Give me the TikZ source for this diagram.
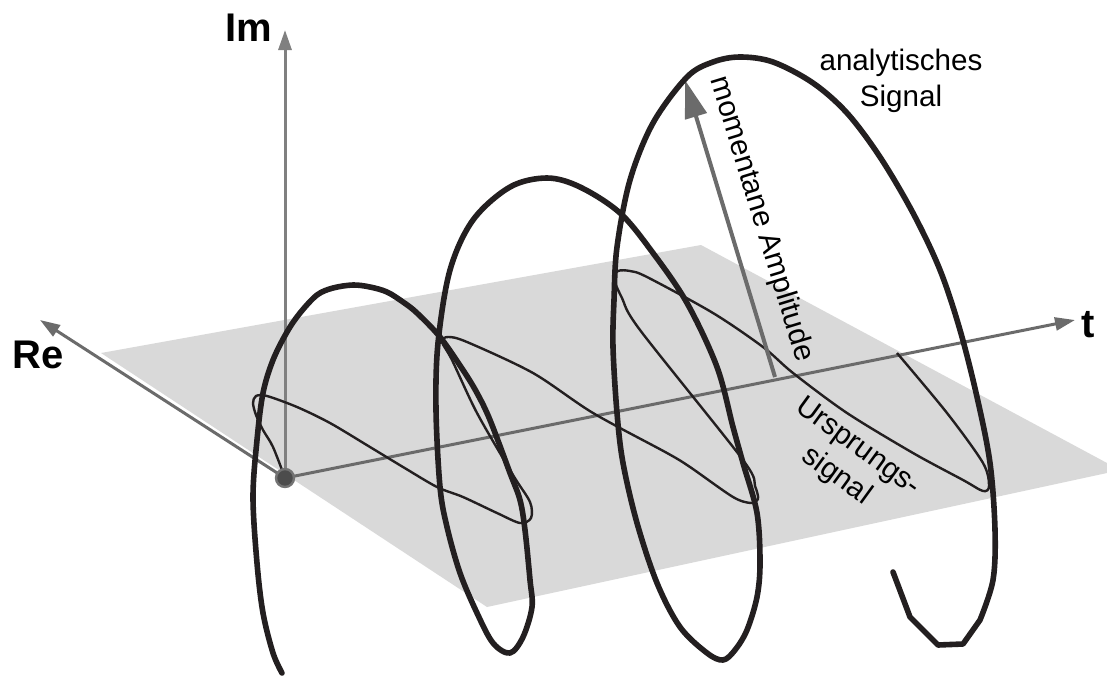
\documentclass[tikz,border=0pt]{standalone}
\usepackage{fontspec}
\setmainfont{Liberation Sans}
\usetikzlibrary{arrows.meta}
\definecolor{helix}{HTML}{231F20}
\definecolor{axisgray}{HTML}{6B6B6B}
\definecolor{imgray}{HTML}{808080}
\definecolor{planegray}{HTML}{D9D9D9}

\begin{document}
\begin{tikzpicture}[x=0.5pt, y=-0.5pt,
    axisarrow/.style={axisgray, line width=1.5pt, -{Triangle[length=10pt,width=6.5pt]}},
    axislabel/.style={font=\fontsize{20}{24}\selectfont\bfseries, inner sep=0pt},
    textlabel/.style={font=\fontsize{14.8}{18}\selectfont, inner sep=0pt, align=center},
    analytic/.style={helix, line width=2.8pt, line join=round, line cap=round},
    real/.style={helix, line width=1.2pt, line join=round}]
    \useasboundingbox (0,0) rectangle (1107,675);

    % Plane
    \fill[planegray] (101,353) -- (701,245) -- (1107,463) -- (1107,473) -- (487,607) -- cycle;

    % Axes
    \coordinate (O) at (285,478);
    \coordinate (ImTip) at (285,30);
    \coordinate (ReTip) at (40,320);
    \coordinate (tTip) at (1075,320);
    \draw[axisarrow, imgray] (O) -- (ImTip);
    \draw[axisarrow] (O) -- (ReTip);
    \draw[axisarrow] (O) -- (tTip);
    \node[axislabel] (Im) at (249,28) {Im};
    \node[axislabel] (Re) at (38,355) {Re};
    \node[axislabel] (t) at (1088,325) {t};

    % Real part
    \draw[real] plot[smooth, tension=0.5] coordinates {(285,478) (273,447) (263,430) (256,415) (253,403) (256,396) (267,396) (297,407) (330,423) (370,447) (403,467) (437,487) (463,497) (497,513) (520,523) (531,518) (530,502) (513,475) (477,413) (452,360) (442,342) (448,337) (467,342) (533,373) (593,413) (667,453) (690,467) (733,497) (751,503) (758,499) (755,486) (743,460) (640,330) (622,298) (614,279) (618,271) (630,271) (647,277) (713,313) (763,347) (793,373) (847,413) (913,453) (963,480) (983,491) (989,486) (983,463) (947,413) (897,353)};

    % Amplitude
    \coordinate (AmpFoot) at (775,377);
    \coordinate (AmpTip) at (685,80);
    \draw[axisgray, line width=2pt, -{Triangle[length=19pt,width=11pt]}] (AmpFoot) -- (AmpTip);

    % Analytic signal
    \draw[analytic] plot[smooth, tension=0.55] coordinates {(282,673) (273,653) (263,613) (257,563) (253,497) (257,440) (263,393) (273,360) (287,332) (300,313) (317,295) (333,288) (353,285) (370,287) (387,292) (403,302) (417,313) (440,337) (463,370) (477,393) (490,420) (510,473) (520,500) (525,530) (530,580) (532,607) (523,637) (510,653) (493,643) (477,613) (460,573) (447,527) (440,487) (436,410) (438,343) (450,270) (473,220) (510,187) (547,178) (580,187) (620,213) (653,253) (687,303) (717,367) (733,427) (743,463) (757,513) (760,563) (757,597) (747,630) (735,650) (723,660) (707,653) (680,627) (657,583) (637,523) (623,463) (617,413) (613,347) (614,300) (617,247) (630,180) (653,123) (687,77) (713,62) (740,57) (773,62) (813,83) (847,113) (880,157) (913,213) (940,270) (960,330) (977,397) (990,463) (995,530) (993,580) (980,620)} -- (963,644) -- (938,645) -- (910,617) -- (893,572);
    \fill[black!70, draw=black!55, line width=1.2pt] (O) circle[radius=4.5pt];

    % Labels
    \node[textlabel] (analytic) at (901,81) {analytisches\\Signal};
    \node[textlabel, rotate=-73] (amp) at (761,219) {momentane Amplitude};
    \node[textlabel, rotate=-36] (orig) at (847,462) {Ursprungs-\\signal};
\end{tikzpicture}
\end{document}
